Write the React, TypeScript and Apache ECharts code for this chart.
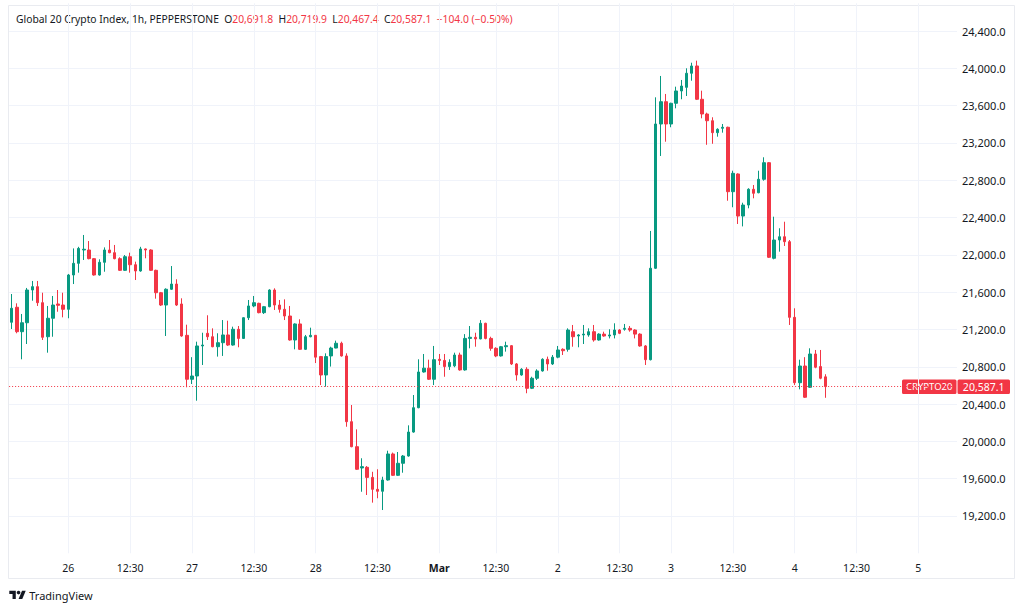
import React, { useEffect, useRef } from "react";
import * as echarts from "echarts";

// [open, close, low, high] per hourly bar
const candles: number[][] = [
  [21277, 21427, 21205, 21580],
  [21438, 21176, 21159, 21480],
  [21176, 21272, 20880, 21366],
  [21272, 21623, 21044, 21645],
  [21623, 21659, 21508, 21720],
  [21659, 21487, 21452, 21720],
  [21487, 21116, 21087, 21594],
  [21122, 21320, 20951, 21452],
  [21320, 21462, 21122, 21559],
  [21473, 21459, 21390, 21623],
  [21462, 21416, 21330, 21594],
  [21416, 21784, 21320, 21795],
  [21784, 21909, 21687, 22069],
  [21909, 22069, 21809, 22086],
  [22052, 22060, 21945, 22213],
  [22052, 21959, 21952, 22148],
  [21959, 21784, 21777, 21966],
  [21784, 21920, 21777, 21952],
  [21920, 22052, 21819, 22080],
  [22052, 22023, 22017, 22159],
  [22023, 21959, 21952, 22106],
  [21959, 21834, 21827, 21974],
  [21834, 21980, 21827, 21998],
  [21980, 21894, 21809, 22023],
  [21894, 21827, 21730, 21927],
  [21827, 22063, 21819, 22086],
  [22063, 22052, 21963, 22069],
  [22052, 21834, 21827, 22060],
  [21834, 21594, 21530, 21841],
  [21594, 21462, 21452, 21602],
  [21462, 21631, 21130, 21641],
  [21631, 21687, 21623, 21880],
  [21687, 21462, 21452, 21738],
  [21473, 21130, 21122, 21534],
  [21137, 20666, 20580, 21251],
  [20666, 20701, 20615, 20903],
  [20701, 21023, 20436, 21069],
  [21023, 21033, 20819, 21165],
  [21159, 21122, 21087, 21352],
  [21122, 21015, 21009, 21212],
  [21015, 21058, 20909, 21159],
  [21058, 21141, 20916, 21301],
  [21141, 21033, 21023, 21294],
  [21033, 21202, 21026, 21230],
  [21202, 21104, 21009, 21237],
  [21104, 21326, 21098, 21330],
  [21326, 21452, 21301, 21516],
  [21452, 21487, 21438, 21559],
  [21480, 21380, 21373, 21487],
  [21380, 21444, 21366, 21452],
  [21444, 21623, 21438, 21631],
  [21623, 21462, 21409, 21641],
  [21462, 21416, 21380, 21516],
  [21416, 21344, 21301, 21523],
  [21344, 21087, 21080, 21452],
  [21087, 21259, 20987, 21266],
  [21259, 20987, 20980, 21309],
  [20987, 21122, 20980, 21141],
  [21122, 21137, 21116, 21219],
  [21137, 20903, 20840, 21141],
  [20909, 20712, 20604, 20916],
  [20712, 20909, 20586, 20944],
  [20916, 21001, 20802, 21015],
  [21001, 21052, 20998, 21080],
  [21052, 20916, 20909, 21069],
  [20916, 20211, 20157, 20944],
  [20211, 19943, 19937, 20390],
  [19943, 19701, 19694, 20129],
  [19715, 19729, 19460, 19819],
  [19722, 19614, 19425, 19736],
  [19614, 19486, 19343, 19674],
  [19486, 19465, 19390, 19701],
  [19465, 19586, 19264, 19621],
  [19586, 19865, 19579, 19900],
  [19865, 19636, 19629, 19880],
  [19636, 19765, 19629, 19886],
  [19765, 19843, 19664, 19854],
  [19843, 20100, 19836, 20172],
  [20100, 20361, 20093, 20497],
  [20361, 20744, 20355, 20880],
  [20744, 20785, 20737, 20937],
  [20785, 20666, 20658, 20876],
  [20666, 20876, 20604, 21023],
  [20880, 20868, 20819, 20937],
  [20868, 20802, 20693, 20937],
  [20802, 20847, 20766, 20880],
  [20810, 20926, 20795, 20951],
  [20926, 20766, 20758, 20951],
  [20766, 21104, 20758, 21150],
  [21104, 21116, 20998, 21237],
  [21116, 21099, 21015, 21165],
  [21099, 21266, 21094, 21301],
  [21266, 21104, 21094, 21272],
  [21104, 20998, 20972, 21122],
  [20998, 20916, 20903, 21009],
  [20916, 21015, 20909, 21023],
  [21015, 21026, 20962, 21069],
  [21026, 20830, 20819, 21033],
  [20830, 20712, 20651, 20840],
  [20712, 20773, 20704, 20785],
  [20773, 20569, 20516, 20795],
  [20569, 20677, 20561, 20693],
  [20677, 20755, 20658, 20773],
  [20755, 20880, 20748, 20891],
  [20880, 20830, 20758, 20909],
  [20830, 20903, 20819, 20926],
  [20903, 20980, 20891, 21023],
  [20987, 20972, 20926, 20998],
  [20987, 21194, 20962, 21212],
  [21176, 21122, 21015, 21248],
  [21130, 21141, 21009, 21150],
  [21141, 21150, 21044, 21248],
  [21141, 21176, 21122, 21212],
  [21176, 21087, 21069, 21248],
  [21087, 21150, 21080, 21159],
  [21150, 21130, 21122, 21176],
  [21130, 21141, 21104, 21202],
  [21141, 21194, 21104, 21266],
  [21194, 21159, 21150, 21202],
  [21202, 21212, 21187, 21259],
  [21212, 21194, 21176, 21237],
  [21194, 21150, 21104, 21202],
  [21150, 21023, 21015, 21159],
  [21023, 20876, 20819, 21033],
  [20876, 21856, 20868, 22256],
  [21856, 23403, 21848, 23689],
  [23403, 23642, 23060, 23918],
  [23642, 23403, 23213, 23725],
  [23403, 23625, 23368, 23631],
  [23625, 23757, 23571, 23803],
  [23757, 23810, 23668, 23875],
  [23796, 23947, 23703, 24000],
  [23947, 24025, 23867, 24060],
  [24025, 23668, 23660, 24082],
  [23668, 23510, 23464, 23760],
  [23510, 23438, 23180, 23524],
  [23438, 23310, 23191, 23475],
  [23310, 23346, 23267, 23357],
  [23357, 23368, 23310, 23403],
  [23368, 22677, 22580, 23374],
  [22677, 22874, 22510, 22902],
  [22867, 22416, 22331, 22874],
  [22416, 22534, 22305, 22559],
  [22534, 22703, 22499, 22714],
  [22703, 22660, 22606, 22749],
  [22666, 22810, 22660, 22902],
  [22810, 22988, 22795, 23046],
  [22988, 21974, 21966, 22995],
  [21963, 22159, 21952, 22409],
  [22159, 22194, 22034, 22285],
  [22194, 22141, 22095, 22355],
  [22141, 21330, 21248, 22159],
  [21330, 20629, 20604, 21427],
  [20629, 20808, 20558, 20876],
  [20808, 20473, 20465, 20903],
  [20580, 20937, 20573, 20998],
  [20937, 20795, 20784, 20980],
  [20802, 20677, 20666, 20980],
  [20691.8, 20587.1, 20467.4, 20719.9],
];

const slotCount = 184;
const categories: string[] = Array.from({ length: slotCount }, (_, i) => String(i));

const timeTicks: { index: number; label: string; bold?: boolean }[] = [
  { index: 11, label: "26" },
  { index: 23, label: "12:30" },
  { index: 35, label: "27" },
  { index: 47, label: "12:30" },
  { index: 59, label: "28" },
  { index: 71, label: "12:30" },
  { index: 83, label: "Mar", bold: true },
  { index: 94, label: "12:30" },
  { index: 106, label: "2" },
  { index: 118, label: "12:30" },
  { index: 128, label: "3" },
  { index: 140, label: "12:30" },
  { index: 152, label: "4" },
  { index: 164, label: "12:30" },
  { index: 176, label: "5" },
];

const priceMin = 18800;
const priceMax = 24400;
const priceStep = 400;

const titleName = "Global 20 Crypto Index, 1h, PEPPERSTONE";
const legendValues = [
  { key: "O", value: "20,691.8" },
  { key: "H", value: "20,719.9" },
  { key: "L", value: "20,467.4" },
  { key: "C", value: "20,587.1" },
];
const changeText = "\u2212104.0 (\u22120.50%)";
const lastClose = 20587.1;
const lastCloseText = "20,587.1";
const symbolName = "CRYPTO20";

const UP = "#089981";
const DOWN = "#f23645";
const TEXT = "#131722";
const GRID = "#f0f3fa";
const TFONT = "'Noto Sans', 'Liberation Sans', sans-serif";

export default function App() {
  const ref = useRef<HTMLDivElement>(null);

  useEffect(() => {
    if (!ref.current) return;
    const chart = echarts.init(ref.current, null, { renderer: "svg" });
    const tickSet = new Set(timeTicks.map((t) => t.index));
    const labelMap: Record<number, { label: string; bold?: boolean }> = {};
    timeTicks.forEach((t) => (labelMap[t.index] = t));

    chart.setOption({
      animation: false,
      backgroundColor: "#ffffff",
      textStyle: { fontFamily: TFONT },
      grid: { left: 9.12, right: 67, top: 31, bottom: 57.7 },
      xAxis: {
        type: "category",
        data: categories,
        boundaryGap: true,
        axisLine: { show: false },
        axisTick: {
          show: true,
          inside: true,
          alignWithLabel: true,
          length: 550,
          interval: (i: number) => tickSet.has(i),
          lineStyle: { color: GRID, width: 1 },
        },
        splitLine: { show: false },
        axisLabel: {
          interval: (i: number) => tickSet.has(i),
          margin: 9,
          color: TEXT,
          fontSize: 10.5,
          fontFamily: TFONT,
          formatter: (v: string) => {
            const t = labelMap[Number(v)];
            if (!t) return "";
            return t.bold ? "{b|" + t.label + "}" : t.label;
          },
          rich: { b: { fontWeight: "bold", fontSize: 10.5, color: TEXT, fontFamily: TFONT } },
        },
      },
      yAxis: {
        type: "value",
        position: "right",
        min: priceMin,
        max: priceMax,
        interval: priceStep,
        scale: true,
        axisLine: { show: false },
        axisTick: { show: false },
        splitLine: { show: true, showMinLine: false, lineStyle: { color: GRID, width: 1 } },
        axisLabel: {
          showMinLabel: false,
          margin: 5,
          color: TEXT,
          fontSize: 11,
          fontFamily: TFONT,
          formatter: (v: number) =>
            v.toLocaleString("en-US", { minimumFractionDigits: 1, maximumFractionDigits: 1 }),
        },
      },
      series: [
        {
          type: "candlestick",
          data: candles,
          barWidth: 3,
          itemStyle: {
            color: UP,
            color0: DOWN,
            borderColor: UP,
            borderColor0: DOWN,
            borderWidth: 1,
          },
          markLine: {
            silent: true,
            symbol: ["none", "none"],
            label: { show: false },
            lineStyle: { color: DOWN, type: [1, 2], width: 1 },
            data: [{ yAxis: lastClose }],
          },
        },
      ],
    });

    const py = chart.convertToPixel({ yAxisIndex: 0 }, lastClose) as number;

    const richText =
      "{n|" + titleName + "}  " +
      legendValues.map((l) => "{n|" + l.key + "}{r|" + l.value + "}").join("  ") +
      "  {r|" + changeText + "}";

    chart.setOption({
      graphic: [
        {
          type: "rect",
          id: "frame",
          silent: true,
          shape: { x: 8.5, y: 5.5, width: 1006, height: 573 },
          style: { fill: "none", stroke: "#e9ebf0", lineWidth: 1 },
        },
        {
          type: "text",
          id: "title",
          x: 16,
          y: 19,
          silent: true,
          style: {
            text: richText,
            verticalAlign: "middle",
            fontFamily: TFONT,
            fontSize: 10.3,
            rich: {
              n: { fill: TEXT, fontSize: 10.3, fontFamily: TFONT },
              r: { fill: DOWN, fontSize: 10.3, fontFamily: TFONT },
            },
          },
        },
        {
          type: "rect",
          id: "symBox",
          silent: true,
          shape: { x: 902, y: py - 7.2, width: 54.5, height: 14.5, r: 1.5 },
          style: { fill: DOWN },
        },
        {
          type: "text",
          id: "symText",
          silent: true,
          x: 929.2,
          y: py,
          style: {
            text: symbolName,
            fill: "#ffffff",
            fontSize: 9.5,
            fontFamily: TFONT,
            align: "center",
            verticalAlign: "middle",
          },
        },
        {
          type: "rect",
          id: "priceBox",
          silent: true,
          shape: { x: 957.5, y: py - 7.2, width: 52.5, height: 14.5, r: 1.5 },
          style: { fill: DOWN },
        },
        {
          type: "text",
          id: "priceText",
          silent: true,
          x: 983.7,
          y: py,
          style: {
            text: lastCloseText,
            fill: "#ffffff",
            fontSize: 10.5,
            fontFamily: TFONT,
            align: "center",
            verticalAlign: "middle",
          },
        },
        {
          type: "group",
          id: "logo",
          silent: true,
          x: 9.3,
          y: 588.8,
          scaleX: 0.463,
          scaleY: 0.463,
          children: [
            {
              type: "polygon",
              shape: { points: [[14, 22], [7, 22], [7, 11], [0, 11], [0, 4], [14, 4]] },
              style: { fill: TEXT },
            },
            {
              type: "polygon",
              shape: { points: [[28, 22], [20, 22], [27.5, 4], [35.5, 4]] },
              style: { fill: TEXT },
            },
            { type: "circle", shape: { cx: 20, cy: 8, r: 4 }, style: { fill: TEXT } },
          ],
        },
        {
          type: "text",
          id: "logoText",
          silent: true,
          x: 29.3,
          y: 595,
          style: {
            text: "TradingView",
            fill: TEXT,
            fontSize: 11,
            fontFamily: TFONT,
            verticalAlign: "middle",
          },
        },
      ],
    });

    return () => chart.dispose();
  }, []);

  return (
    <div
      ref={ref}
      style={{ position: "fixed", left: 0, top: 0, width: 1024, height: 611, background: "#fff" }}
    />
  );
}
